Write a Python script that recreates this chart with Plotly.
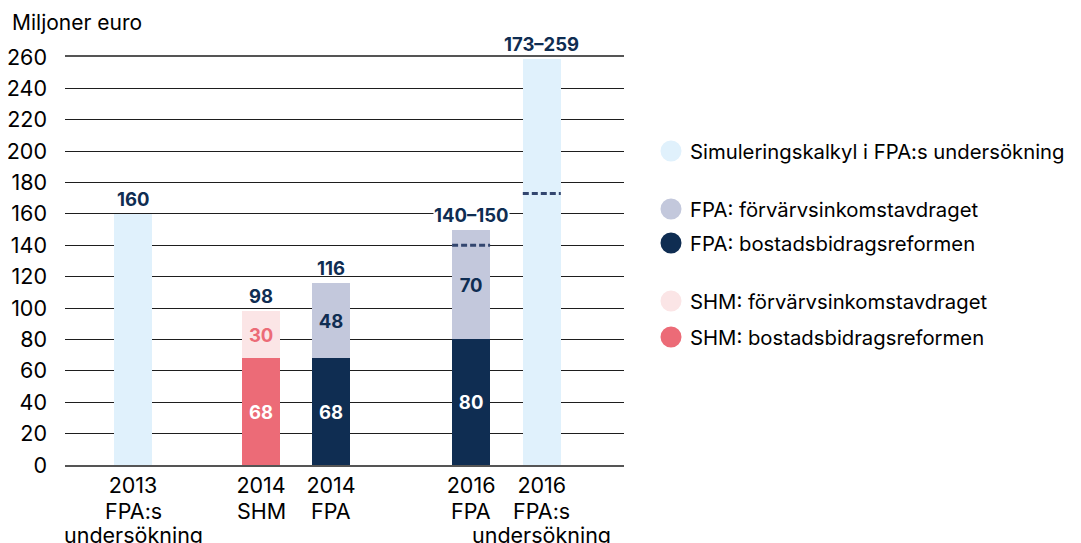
import plotly.graph_objects as go

# ---- data ----
cat_line1 = ["2013", "2014", "2014", "2016", "2016"]
cat_line2 = ["FPA:s", "SHM", "FPA", "FPA", "FPA:s"]
cat_line3 = ["undersökning", "", "", "", "undersökning"]
x_pos = [1.0, 2.83, 3.83, 5.83, 6.84]

sim_values = [160, None, None, None, 259]
fpa_bostad = [None, None, 68, 80, None]
fpa_forv = [None, None, 48, 70, None]
shm_bostad = [None, 68, None, None, None]
shm_forv = [None, 30, None, None, None]
range_low = [None, None, None, 140, 173]

top_labels = ["160", "98", "116", "140–150", "173–259"]
top_values = [160, 98, 116, 150, 259]

y_ticks = list(range(0, 261, 20))

legend_labels = ["Simuleringskalkyl i FPA:s undersökning",
                 "FPA: förvärvsinkomstavdraget",
                 "FPA: bostadsbidragsreformen",
                 "SHM: förvärvsinkomstavdraget",
                 "SHM: bostadsbidragsreformen"]

# ---- style ----
C_SIM = "#e0f1fc"
C_FPA_F = "#c3c8dc"
C_FPA_B = "#0f2d52"
C_SHM_F = "#fbe5e6"
C_SHM_B = "#ec6b77"
legend_colors = [C_SIM, C_FPA_F, C_FPA_B, C_SHM_F, C_SHM_B]
label_bg = [None, None, None, "white", None]

FONT = "Inter"
AX_SIZE = 21.5
LEG_SIZE = 20.3
TITLE_SIZE = 21
LAB_SIZE = 18.5
BAR_W = 0.543
OFF = 8                      # default page body margin
W, H = 1081, 543
L, R, T, B = 65, 624, 57, 465  # plot area in page pixels

fig = go.Figure()

def bar(vals, color, textcolor, show_text):
    return go.Bar(
        x=x_pos, y=vals, width=BAR_W, marker=dict(color=color, line=dict(width=0)),
        text=[("" if v is None else str(v)) for v in vals] if show_text else None,
        textposition="inside", insidetextanchor="middle",
        textfont=dict(family=FONT, size=LAB_SIZE, color=textcolor, weight="bold"),
        showlegend=False, hoverinfo="skip", cliponaxis=False,
    )

fig.add_trace(bar(sim_values, C_SIM, C_FPA_B, False))
fig.add_trace(bar(shm_bostad, C_SHM_B, "white", True))
fig.add_trace(bar(shm_forv, C_SHM_F, C_SHM_B, True))
fig.add_trace(bar(fpa_bostad, C_FPA_B, "white", True))
fig.add_trace(bar(fpa_forv, C_FPA_F, C_FPA_B, True))

# dashed lower bounds
for xp, lo in zip(x_pos, range_low):
    if lo is None:
        continue
    fig.add_trace(go.Scatter(
        x=[xp - BAR_W / 2, xp + BAR_W / 2], y=[lo, lo], mode="lines",
        line=dict(color="#33466f", width=3, dash="6px,3px"),
        showlegend=False, hoverinfo="skip", cliponaxis=False,
    ))

# top labels
for xp, lab, v, bg in zip(x_pos, top_labels, top_values, label_bg):
    fig.add_annotation(
        x=xp, y=v, text=lab, showarrow=False, yanchor="bottom", yshift=3,
        font=dict(family=FONT, size=LAB_SIZE, color=C_FPA_B, weight="bold"),
        bgcolor=bg, borderpad=0,
    )

# second / third lines of the category labels
for xp, l2, l3 in zip(x_pos, cat_line2, cat_line3):
    for txt, shift in ((l2, -46), (l3, -70)):
        if txt:
            fig.add_annotation(
                x=xp, y=0, text=txt, showarrow=False, yanchor="middle", yshift=shift,
                font=dict(family=FONT, size=AX_SIZE, color="black"),
            )

# title
fig.add_annotation(
    x=(10 - L) / (R - L), y=(B - 22) / (B - T), xref="paper", yref="paper",
    text="Miljoner euro", showarrow=False, xanchor="left", yanchor="middle",
    font=dict(family=FONT, size=TITLE_SIZE, color="black"),
)

# manual legend (page pixel positions converted to paper coordinates)
legend_y_px = [151, 209, 243, 301, 337]
for lab, col, ypx in zip(legend_labels, legend_colors, legend_y_px):
    yp = (B - ypx) / (B - T)
    xc = (671 - L) / (R - L)
    fig.add_shape(type="circle", xref="paper", yref="paper",
                  xsizemode="pixel", ysizemode="pixel",
                  xanchor=xc, yanchor=yp, x0=-10.5, x1=10.5, y0=-10.5, y1=10.5,
                  fillcolor=col, line=dict(width=0))
    fig.add_annotation(x=(688 - L) / (R - L), y=yp, xref="paper", yref="paper",
                       text=lab, showarrow=False, xanchor="left", yanchor="middle",
                       font=dict(family=FONT, size=LEG_SIZE, color="black"))

fig.update_layout(
    width=W - OFF, height=H - OFF, barmode="stack",
    margin=dict(l=L - OFF, r=W - R, t=T - OFF, b=H - B, pad=0),
    plot_bgcolor="white", paper_bgcolor="white",
    font=dict(family=FONT, size=AX_SIZE, color="black"),
    xaxis=dict(range=[(L - 133) / 70 + 1, (R - 133) / 70 + 1],
               tickvals=x_pos, ticktext=cat_line1, showgrid=False,
               showline=True, linecolor="#555555", linewidth=2, mirror=True,
               ticks="", tickangle=0, automargin=False, ticklabelstandoff=0,
               tickfont=dict(family=FONT, size=AX_SIZE, color="black"),
               zeroline=False, fixedrange=True),
    yaxis=dict(range=[0, 260], tickvals=y_ticks, showgrid=True,
               gridcolor="#1e1e1e", gridwidth=1.4, zeroline=False,
               showline=False, ticks="", ticklabelstandoff=17, automargin=False,
               tickfont=dict(family=FONT, size=AX_SIZE, color="black"), fixedrange=True),
    showlegend=False,
)

fig.write_html("out.html")
